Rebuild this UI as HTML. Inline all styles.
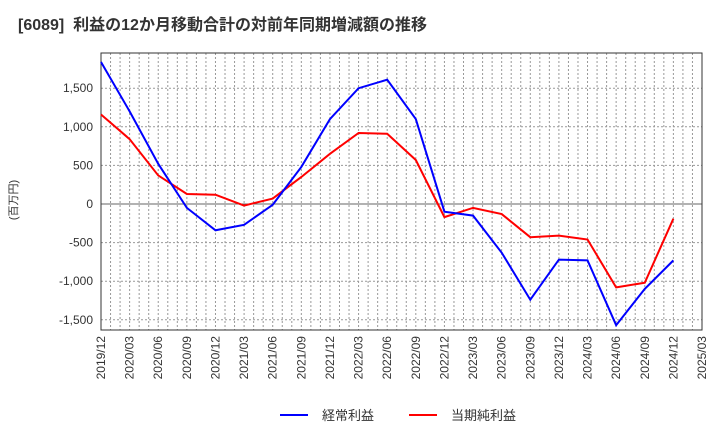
<!DOCTYPE html>
<html><head><meta charset="utf-8"><style>
body{margin:0;background:#fff;font-family:"Liberation Sans","Noto Sans CJK JP",sans-serif;}
svg text{font-family:"Liberation Sans","Noto Sans CJK JP",sans-serif;}
</style></head><body>
<svg id="c" width="720" height="440">
<text x="18" y="30" font-size="16" font-weight="bold" fill="#333" xml:space="preserve">[6089]  利益の12か月移動合計の対前年同期増減額の推移</text>
<text transform="translate(17,200) rotate(-90)" font-size="11" fill="#333" text-anchor="middle">(百万円)</text>
<g id="grid"></g><g id="axes"></g><g id="series"></g>
<g>
<line x1="280" y1="415" x2="308" y2="415" stroke="#0000ff" stroke-width="2"/>
<text x="322" y="420" font-size="13" fill="#333">経常利益</text>
<line x1="409" y1="415" x2="437" y2="415" stroke="#ff0000" stroke-width="2"/>
<text x="451" y="420" font-size="13" fill="#333">当期純利益</text>
</g>
</svg>
<script>
const categories=["2019/12","2020/03","2020/06","2020/09","2020/12","2021/03","2021/06","2021/09","2021/12","2022/03","2022/06","2022/09","2022/12","2023/03","2023/06","2023/09","2023/12","2024/03","2024/06","2024/09","2024/12","2025/03"];
const keijo=[1840,1200,520,-50,-340,-270,-10,480,1100,1500,1610,1100,-100,-150,-630,-1240,-720,-730,-1570,-1100,-730];
const junri=[1160,840,370,130,120,-20,70,350,650,920,910,570,-170,-50,-130,-430,-410,-460,-1080,-1020,-190];
const yTicks=[-1500,-1000,-500,0,500,1000,1500];
const L=101,R=702,T=53,B=330,Y0=204,PER=0.0772;
const NS="http://www.w3.org/2000/svg";
const xs=i=>L+(R-L)*i/(categories.length-1);
const ys=v=>Y0-v*PER;
function mk(tag,attrs,parent){const e=document.createElementNS(NS,tag);for(const k in attrs)e.setAttribute(k,attrs[k]);parent.appendChild(e);return e;}
const grid=document.getElementById('grid'),axes=document.getElementById('axes'),ser=document.getElementById('series');
for(let m=1;m<(categories.length-1)*3;m++){const x=L+(R-L)*m/((categories.length-1)*3);
const l=mk('line',{x1:x,y1:T,x2:x,y2:B,stroke:'#999','stroke-dasharray':'2,2','stroke-width':1},grid);

}
yTicks.forEach(v=>{const y=ys(v);
const l=mk('line',{x1:L,y1:y,x2:R,y2:y,stroke:v===0?'#666':'#999','stroke-dasharray':v===0?'':'2,2','stroke-width':1},grid);


const t=mk('text',{x:L-8,y:y+4,'font-size':12,fill:'#333','text-anchor':'end'},axes);t.textContent=v.toLocaleString('en-US');

});
const fr=mk('rect',{x:L,y:T,width:R-L,height:B-T,fill:'none',stroke:'#333','stroke-width':1},axes);


categories.forEach((c,i)=>{const x=xs(i);
const t=mk('text',{transform:`translate(${x+4},${B+6}) rotate(-90)`,'font-size':12,fill:'#333','text-anchor':'end'},axes);t.textContent=c;

});
function line(arr,color,name){const p=mk('polyline',{points:arr.map((v,i)=>xs(i)+','+ys(v)).join(' '),fill:'none',stroke:color,'stroke-width':2},ser);

}
line(junri,'#ff0000','series-junri-line');
line(keijo,'#0000ff','series-keijo-line');
</script>
</body></html>
